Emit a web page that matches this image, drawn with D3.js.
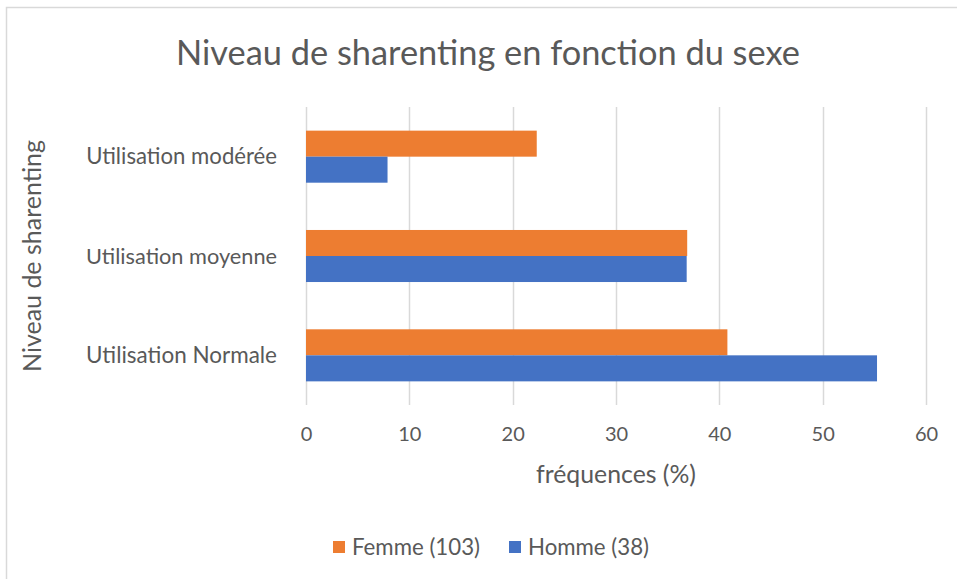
<!DOCTYPE html>
<html>
<head>
<meta charset="utf-8">
<script src="https://cdn.jsdelivr.net/npm/d3@7"></script>
<style>
  body { margin: 0; background: #fff; }
  svg { display: block; font-family: Lato, "Open Sans", sans-serif; }
</style>
</head>
<body>
<svg width="957" height="579"></svg>
<script>
const width = 957, height = 579;

// data
const categories = ["Utilisation modérée", "Utilisation moyenne", "Utilisation Normale"];
const series = ["Femme", "Homme"];
const seriesLabels = ["Femme (103)", "Homme (38)"];
const femmeValues = [22.33, 36.89, 40.78];
const hommeValues = [7.89, 36.84, 55.26];
const xTicks = [0, 10, 20, 30, 40, 50, 60];

const colors = {Femme: "#ED7D31", Homme: "#4472C4"};
const textColor = "#595959";

let plot = {left: 306, right: 926, top: 107, bottom: 405};

const rows = categories.map((c, i) => ({
    cat: c,
    Femme: femmeValues[i],
    Homme: hommeValues[i]
}));

const svg = d3.select("svg");

// frame (only left and top edges visible)
svg.append("rect")
    .attr("x", 6.5).attr("y", 7.5)
    .attr("width", width + 20).attr("height", height + 20)
    .attr("fill", "white")
    .attr("stroke", "#d9d9d9")
    .attr("stroke-width", 1.5);

// scales
const x = d3.scaleLinear()
    .domain([0, 60])
    .range([plot.left, plot.right]);

const y = d3.scaleBand()
    .domain(categories)
    .range([plot.top, plot.bottom])
    .paddingInner(0.476)
    .paddingOuter(0.238);

const ySub = d3.scaleBand()
    .domain(series)
    .range([0, y.bandwidth()]);

// shrink/grow a text to a target width
function fit(sel, w) {
    const node = sel.node();
    const fs = parseFloat(sel.attr("font-size"));
    const cur = node.getComputedTextLength();
    sel.attr("font-size", (fs * w / cur).toFixed(2));
    return sel;
}

// gridlines
svg.append("g")
    .selectAll("line")
    .data(xTicks)
    .join("line")
        .attr("x1", d => Math.round(x(d)) + 0.5)
        .attr("x2", d => Math.round(x(d)) + 0.5)
        .attr("y1", plot.top)
        .attr("y2", plot.bottom)
        .attr("stroke", "#d9d9d9")
        .attr("stroke-width", 1.5);

// bars
const groups = svg.append("g")
    .selectAll("g")
    .data(rows)
    .join("g")
        .attr("transform", d => `translate(0, ${y(d.cat)})`);

groups.selectAll("rect")
    .data(d => series.map(s => ({s: s, v: d[s]})))
    .join("rect")
        .attr("x", x(0))
        .attr("y", d => ySub(d.s))
        .attr("width", d => x(d.v) - x(0))
        .attr("height", ySub.bandwidth())
        .attr("fill", d => colors[d.s]);

// x axis labels
const xAxis = svg.append("g")
    .attr("transform", `translate(0, ${plot.bottom})`)
    .call(d3.axisBottom(x).tickValues(xTicks).tickSize(0).tickPadding(22));
xAxis.select(".domain").remove();
xAxis.selectAll("text")
    .attr("font-family", "Lato, sans-serif")
    .attr("font-size", 20)
    .attr("fill", textColor);

// y axis labels
const yAxis = svg.append("g")
    .attr("transform", `translate(${plot.left}, 0)`)
    .call(d3.axisLeft(y).tickSize(0).tickPadding(29));
yAxis.select(".domain").remove();
yAxis.selectAll("text")
    .attr("font-family", "Lato, sans-serif")
    .attr("font-size", 19)
    .attr("fill", textColor)
    .attr("dy", "0.35em");
yAxis.selectAll("text").each(function() {
    fit(d3.select(this), 191);
});

// title
fit(svg.append("text")
    .attr("x", 488)
    .attr("y", 65)
    .attr("text-anchor", "middle")
    .attr("font-size", 32)
    .attr("fill", textColor)
    .text("Niveau de sharenting en fonction du sexe"), 624);

// x axis title
fit(svg.append("text")
    .attr("x", (plot.left + plot.right) / 2)
    .attr("y", 483)
    .attr("text-anchor", "middle")
    .attr("font-size", 20)
    .attr("fill", textColor)
    .text("fréquences (%)"), 160);

// y axis title
fit(svg.append("text")
    .attr("transform", `translate(41, ${(plot.top + plot.bottom) / 2}) rotate(-90)`)
    .attr("text-anchor", "middle")
    .attr("font-size", 20)
    .attr("fill", textColor)
    .text("Niveau de sharenting"), 232);

// legend
const legendX = [333, 509];
const legend = svg.append("g")
    .selectAll("g")
    .data(series)
    .join("g")
        .attr("transform", (d, i) => `translate(${legendX[i]}, 541)`);

legend.append("rect")
    .attr("width", 12)
    .attr("height", 12)
    .attr("fill", d => colors[d]);

legend.append("text")
    .attr("x", 19)
    .attr("y", 6)
    .attr("dy", "0.35em")
    .attr("font-size", 19)
    .attr("fill", textColor)
    .text((d, i) => seriesLabels[i])
    .each(function(d, i) {
        fit(d3.select(this), i == 0 ? 128 : 121);
    });
</script>
</body>
</html>
